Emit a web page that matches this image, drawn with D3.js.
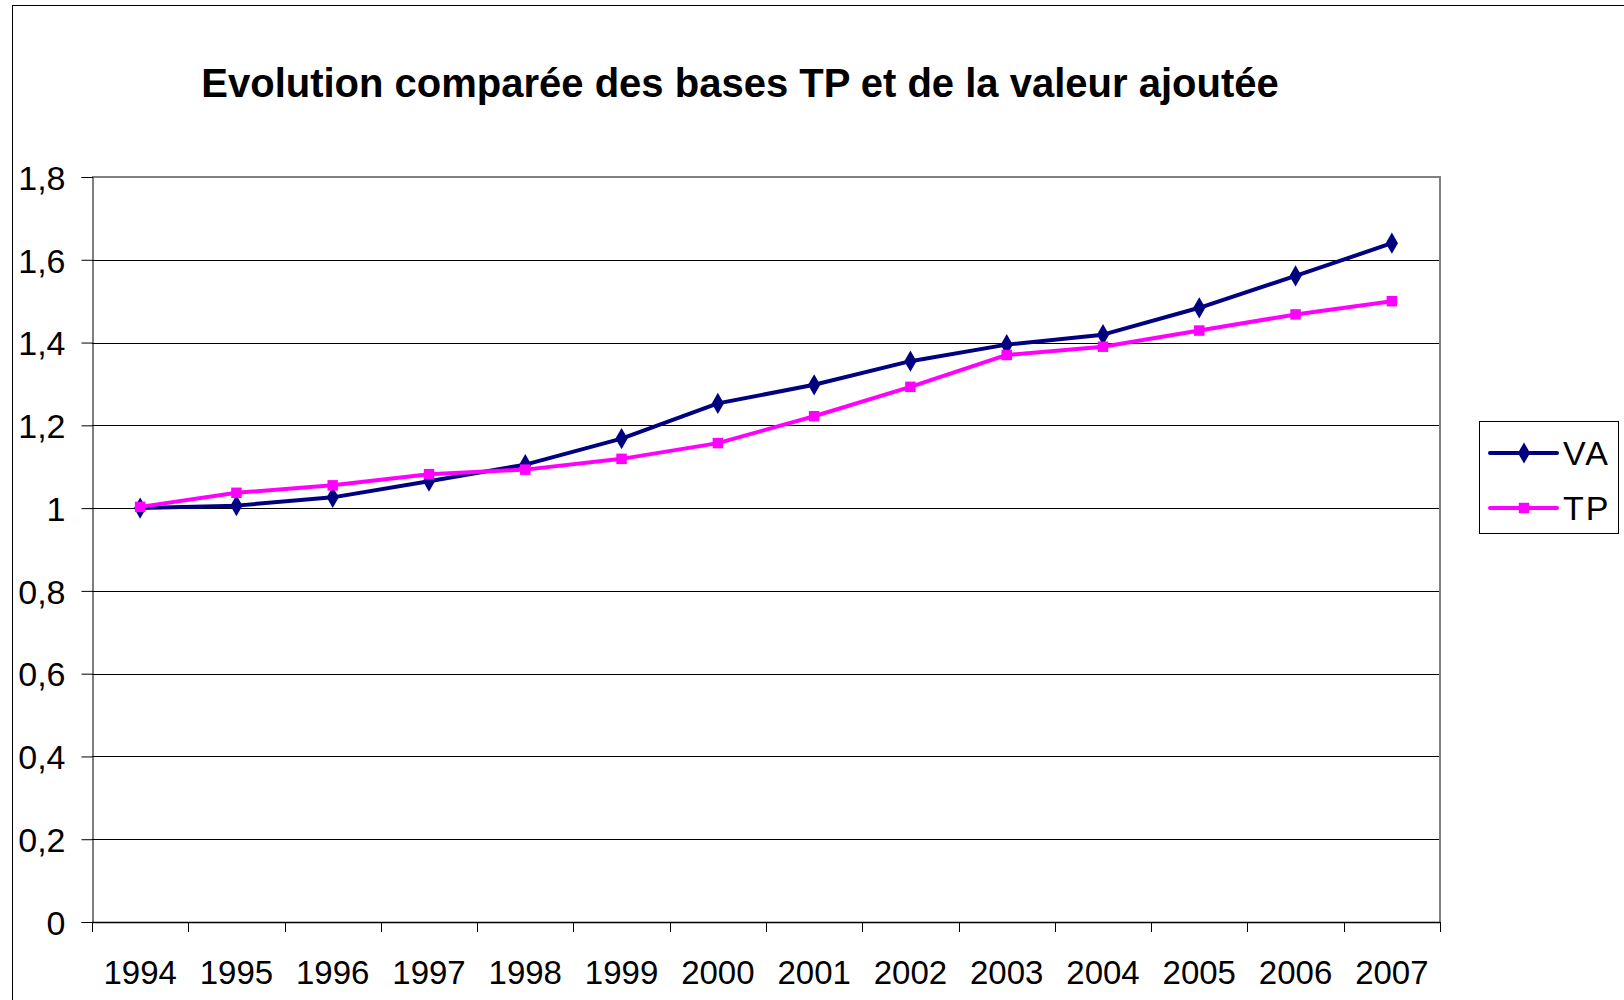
<!DOCTYPE html>
<html>
<head>
<meta charset="utf-8">
<script src="https://cdn.jsdelivr.net/npm/d3@7"></script>
<style>
  body { margin: 0; background: #fff; }
  text { font-family: "Liberation Sans", Arial, sans-serif; fill: #000; }
</style>
</head>
<body>
<script>
const width = 1624;
const height = 1000;

// data
const years = ['1994', '1995', '1996', '1997', '1998', '1999', '2000',
    '2001', '2002', '2003', '2004', '2005', '2006', '2007'];
const vaValues = [1.0, 1.006, 1.026, 1.065, 1.105, 1.168, 1.253,
    1.298, 1.355, 1.395, 1.419, 1.484, 1.561, 1.640];
const tpValues = [1.003, 1.037, 1.055, 1.082, 1.093, 1.119, 1.157,
    1.222, 1.293, 1.370, 1.390, 1.429, 1.468, 1.500];
const yTicks = [0, 0.2, 0.4, 0.6, 0.8, 1, 1.2, 1.4, 1.6, 1.8];
const seriesNames = ['VA', 'TP'];

const plot = {left: 92, right: 1440, top: 177, bottom: 922};

const svg = d3.select("body").append("svg")
    .attr("width", width)
    .attr("height", height);

// chart area border (runs off the picture on the right and bottom)
svg.append("rect")
    .attr("x", 12.5).attr("y", 5.5)
    .attr("width", width + 20).attr("height", height + 20)
    .attr("fill", "#fff").attr("stroke", "#000").attr("stroke-width", 1);

const x = d3.scaleBand()
    .domain(years)
    .range([plot.left, plot.right])
    .padding(0);

const y = d3.scaleLinear()
    .domain([0, 1.8])
    .range([plot.bottom, plot.top]);

const fr = d3.formatLocale({decimal: ",", thousands: " ", grouping: [3], currency: ["", "€"]});
const fmt = v => fr.format("~g")(v);

// gridlines
svg.append("g")
    .selectAll("line")
    .data(yTicks.filter(t => t > 0 && t < 1.8))
    .join("line")
    .attr("x1", plot.left).attr("x2", plot.right)
    .attr("y1", d => Math.round(y(d)) + 0.5).attr("y2", d => Math.round(y(d)) + 0.5)
    .attr("stroke", "#000").attr("stroke-width", 1);

// plot area border top/right (grey)
svg.append("path")
    .attr("d", `M${plot.left},${plot.top}H${plot.right}V${plot.bottom}`)
    .attr("fill", "none").attr("stroke", "#808080").attr("stroke-width", 2);

// y axis
const yAxis = d3.axisLeft(y)
    .tickValues(yTicks)
    .tickSize(11)
    .tickPadding(16)
    .tickFormat(fmt);
svg.append("g")
    .attr("transform", `translate(${plot.left + 0.5},0)`)
    .call(yAxis)
    .call(g => g.selectAll("text").style("font-size", "34px").attr("dy", "0.36em"))
    .call(g => g.selectAll("line,path").attr("stroke", "#000"));

// x axis: ticks between categories
svg.append("line")
    .attr("x1", plot.left).attr("x2", plot.right)
    .attr("y1", plot.bottom + 0.5).attr("y2", plot.bottom + 0.5)
    .attr("stroke", "#000").attr("stroke-width", 1.5);
svg.append("g")
    .selectAll("line")
    .data(years.concat(["end"]))
    .join("line")
    .attr("x1", (d, i) => Math.round(plot.left + i * x.step()) + 0.5)
    .attr("x2", (d, i) => Math.round(plot.left + i * x.step()) + 0.5)
    .attr("y1", plot.bottom).attr("y2", plot.bottom + 10)
    .attr("stroke", "#000");
svg.append("g")
    .selectAll("text")
    .data(years)
    .join("text")
    .attr("x", d => x(d) + x.bandwidth() / 2)
    .attr("y", 984)
    .attr("text-anchor", "middle")
    .style("font-size", "33px")
    .text(d => d);

// title
svg.append("text")
    .attr("x", 740).attr("y", 97)
    .attr("text-anchor", "middle")
    .style("font-size", "40px")
    .style("font-weight", "bold")
    .text("Evolution comparée des bases TP et de la valeur ajoutée");

// series
const series = [
    {name: seriesNames[0], values: vaValues, color: "#000080", symbol: d3.symbolDiamond, size: 130},
    {name: seriesNames[1], values: tpValues, color: "#ff00ff", symbol: d3.symbolSquare, size: 110}
];

const line = d3.line()
    .x((d, i) => x(years[i]) + x.bandwidth() / 2)
    .y(d => y(d));

series.forEach(s => {
    svg.append("path")
        .datum(s.values)
        .attr("d", line)
        .attr("fill", "none")
        .attr("stroke", s.color)
        .attr("stroke-width", 4)
        .attr("stroke-linejoin", "round");
    svg.append("g")
        .selectAll("path")
        .data(s.values)
        .join("path")
        .attr("transform", (d, i) => `translate(${x(years[i]) + x.bandwidth() / 2},${y(d)})`)
        .attr("d", d3.symbol().type(s.symbol).size(s.size))
        .attr("fill", s.color);
});

// legend
const legend = svg.append("g");
legend.append("rect")
    .attr("x", 1479.5).attr("y", 421.5)
    .attr("width", 139).attr("height", 112)
    .attr("fill", "#fff").attr("stroke", "#000");
series.forEach((s, i) => {
    const ly = 453 + i * 55;
    legend.append("line")
        .attr("x1", 1490).attr("x2", 1557)
        .attr("y1", ly).attr("y2", ly)
        .attr("stroke", s.color).attr("stroke-width", 4)
        .attr("stroke-linecap", "round");
    legend.append("path")
        .attr("transform", `translate(1524,${ly})`)
        .attr("d", d3.symbol().type(s.symbol).size(s.size))
        .attr("fill", s.color);
    legend.append("text")
        .attr("x", 1563).attr("y", ly + 12)
        .style("font-size", "34px")
        .style("letter-spacing", "2px")
        .text(s.name);
});
</script>
</body>
</html>
